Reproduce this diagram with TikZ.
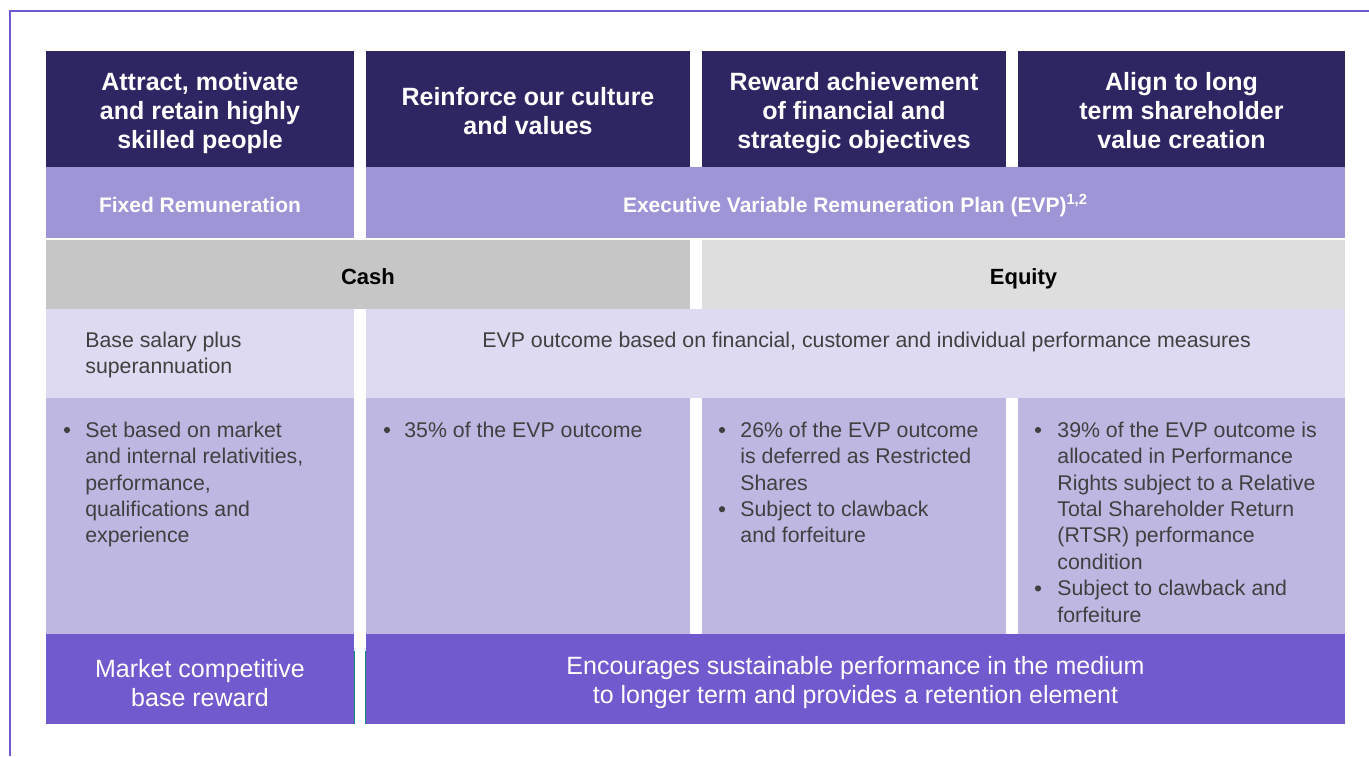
\documentclass[tikz,border=0pt]{standalone}
\usepackage{fontspec}
\setmainfont{Liberation Sans}
\usepackage{xcolor}
\usepackage{tikz}

\definecolor{navy}{HTML}{2E2563}
\definecolor{planlilac}{HTML}{9E95D7}
\definecolor{cashgray}{HTML}{C6C6C6}
\definecolor{equitygray}{HTML}{DEDEDE}
\definecolor{palelilac}{HTML}{DEDAF1}
\definecolor{midlilac}{HTML}{BDB7E2}
\definecolor{rewardpurple}{HTML}{705ACD}
\definecolor{framepurple}{HTML}{6A5ACD}
\definecolor{tealline}{HTML}{168A7E}
\definecolor{textgray}{HTML}{404040}

\begin{document}
\begin{tikzpicture}[x=0.5pt,y=-0.5pt,
  headtext/.style={text=white,font=\fontsize{12.5}{14.5}\selectfont\bfseries,align=center},
  bandtext/.style={anchor=base,font=\fontsize{10.5}{13}\selectfont\bfseries},
  listtext/.style={anchor=north west,inner sep=0pt,align=left,text=textgray,font=\fontsize{10.65}{13.2}\selectfont},
  dot/.style={circle,fill=textgray,inner sep=0pt,minimum size=3.1pt},
  reward/.style={text=white,font=\fontsize{12.5}{14.5}\selectfont,align=center}]
\useasboundingbox (0,0) rectangle (1369,756);
% Frame
\draw[framepurple,line width=1pt] (9.5,756) -- (9.5,10.5) -- (1369,10.5);
% Goals
\foreach \l/\r in {46/354,366/690,702/1006,1018/1345}
    \fill[navy] (\l,51) rectangle (\r,167);
% Plans
\fill[planlilac] (46,167) rectangle (354,238);
\fill[planlilac] (366,167) rectangle (1345,238);
% Cash and equity
\fill[cashgray] (46,240) rectangle (690,309);
\fill[equitygray] (702,240) rectangle (1345,309);
% Measures
\fill[palelilac] (46,309) rectangle (354,398);
\fill[palelilac] (366,309) rectangle (1345,398);
% Details
\foreach \l/\r in {46/354,366/690,702/1006,1018/1345}
    \fill[midlilac] (\l,398) rectangle (\r,634);
% Outcomes
\fill[rewardpurple] (46,634) rectangle (354,724);
\fill[rewardpurple] (366,634) rectangle (1345,724);
\draw[tealline,line width=0.9pt] (354.5,651) -- (354.5,724);
\draw[tealline,line width=0.9pt] (365.5,651) -- (365.5,724);
% Labels
\node[headtext] (goal1) at (200,113) {Attract, motivate\\and retain highly\\skilled people};
\node[headtext] (goal2) at (528,111) {Reinforce our culture\\and values};
\node[headtext] (goal3) at (854,113) {Reward achievement\\of financial and\\strategic objectives};
\node[headtext] (goal4) at (1181.5,111) {Align to long\\term shareholder\\value creation};
\node[bandtext,text=white] (fixed) at (200,212.5) {Fixed Remuneration};
\node[bandtext,text=white] (evp) at (855.5,212.5) {Executive Variable Remuneration Plan (EVP)\textsuperscript{1,2}};
\node[bandtext,font=\fontsize{11}{13}\selectfont\bfseries] (cash) at (368,284) {Cash};
\node[bandtext,font=\fontsize{11}{13}\selectfont\bfseries] (equity) at (1023.5,284) {Equity};
\node[listtext] (basesalary) at (85,328.5) {\strut Base salary plus\\superannuation};
\node[listtext] (measures) at (482,328.5) {\strut EVP outcome based on financial, customer and individual performance measures};
% Bullets
\node[listtext] (fixedlist) at (85,418.5) {\strut Set based on market\\and internal relativities,\\performance,\\qualifications and\\experience};
\node[listtext] (cashlist) at (404,418.5) {\strut 35\% of the EVP outcome};
\node[listtext] (shareslist) at (740,418.5) {\strut 26\% of the EVP outcome\\is deferred as Restricted\\Shares\\Subject to clawback\\and forfeiture};
\node[listtext] (rightslist) at (1057,418.5) {\strut 39\% of the EVP outcome is\\allocated in Performance\\Rights subject to a Relative\\Total Shareholder Return\\(RTSR) performance\\condition\\Subject to clawback and\\forfeiture};
\foreach \x/\y [count=\i] in {67/430,387/430,722/430,722/509.2,1038/430,1038/588.4}
    \node[dot] (dot\i) at (\x,\y) {};
\node[reward] (basereward) at (200,683) {Market competitive\\base reward};
\node[reward] (retention) at (855.5,683) {Encourages sustainable performance in the medium\\to longer term and provides a retention element};
\end{tikzpicture}
\end{document}
